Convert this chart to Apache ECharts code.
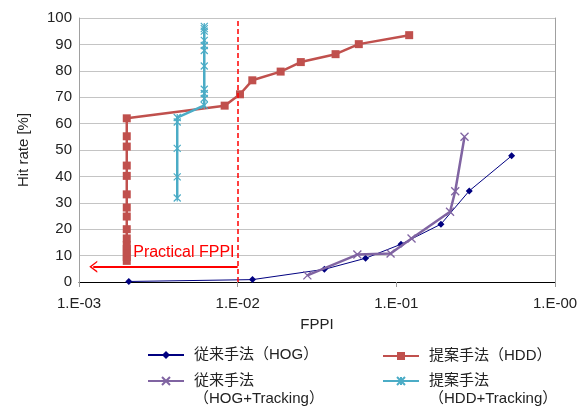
<!DOCTYPE html>
<html>
<head>
<meta charset="utf-8">
<script src="https://cdn.jsdelivr.net/npm/echarts@6/dist/echarts.min.js"></script>
<style>
  html, body { margin: 0; padding: 0; background: #ffffff; }
  #chart { width: 587px; height: 408px; }
</style>
</head>
<body>
<div id="chart"></div>
<script>
// ---- data ----
const seriesNames = ['従来手法（HOG）', '提案手法（HDD）', '従来手法\n（HOG+Tracking）', '提案手法\n（HDD+Tracking）'];

const hogX = [0.00206, 0.0124, 0.0352, 0.064, 0.107, 0.191, 0.288, 0.533];
const hogY = [0.2, 0.9, 4.8, 9.0, 14.3, 21.9, 34.5, 47.8];

const hddX = [0.002, 0.002, 0.002, 0.002, 0.002, 0.002, 0.002, 0.002, 0.002, 0.002, 0.002, 0.002, 0.002, 0.002, 0.002,
              0.00828, 0.01034, 0.01237, 0.01866, 0.0250, 0.0414, 0.058, 0.1205];
const hddY = [8.0, 9.5, 11.0, 12.5, 14.0, 16.5, 20.0, 24.8, 28.2, 33.2, 40.2, 44.1, 51.3, 55.2, 62.0,
              66.8, 71.1, 76.4, 79.7, 83.3, 86.3, 90.1, 93.5];

const hogTrX = [0.0275, 0.0568, 0.092, 0.1247, 0.218, 0.235, 0.269];
const hogTrY = [2.5, 10.4, 10.8, 16.5, 26.6, 34.4, 55.0];

const hddTrX = [0.00416, 0.00416, 0.00416, 0.00416, 0.00416,
                0.00616, 0.00616, 0.00616, 0.00616, 0.00616, 0.00616, 0.00616, 0.00616, 0.00616, 0.00616, 0.00616];
const hddTrY = [31.8, 39.8, 50.6, 60.6, 62.3,
                66.9, 69.5, 71.4, 73.0, 81.8, 87.7, 89.6, 91.5, 95.0, 96.0, 96.8];

const xTickLabels = ['1.E-03', '1.E-02', '1.E-01', '1.E-00'];
const xMin = 0.001, xMax = 1;
const yMin = 0, yMax = 100, yStep = 10;

const practicalFPPI = 0.01;
const arrowY = 5.8;
const arrowEndX = 0.00123;
const practicalLabel = 'Practical FPPI';
const practicalLabelPos = [0.0097, 11.3];

// ---- build chart ----
const zip = (xs, ys) => xs.map((x, i) => [x, ys[i]]);
const FONT = '"Liberation Sans", Arial, "Noto Sans CJK JP", sans-serif';
const xSym = 'path://M0,0L10,10M10,0L0,10';
const starSym = 'path://M0,0L10,10M10,0L0,10M5,0L5,10';
const chevronUp = 'path://M0,10L5,0L10,10L8.6,10L5,2.8L1.4,10Z';

const chart = echarts.init(document.getElementById('chart'), null, { renderer: 'canvas' });

const legendText = { fontFamily: FONT, fontSize: 15, color: '#222', lineHeight: 18, padding: [0, 0, 0, 5] };
const legendBase = {
  orient: 'horizontal', padding: 0, itemWidth: 36, itemHeight: 10, itemGap: 0,
  textStyle: legendText, selectedMode: false
};
const legendRow1 = Object.assign({}, legendBase, { formatter: n => n });
// leading empty line keeps the icon level with the first text line
const legendRow2 = Object.assign({}, legendBase, { formatter: n => '\n' + n });

const option = {
  backgroundColor: '#ffffff',
  animation: false,
  grid: { left: 79, right: 32, top: 18, bottom: 126, containLabel: false },
  legend: [
    Object.assign({}, legendRow1, { data: [seriesNames[0]], left: 147, top: 346 }),
    Object.assign({}, legendRow1, { data: [seriesNames[1]], left: 382, top: 347 }),
    Object.assign({}, legendRow2, { data: [seriesNames[2]], left: 147, top: 354 }),
    Object.assign({}, legendRow2, { data: [seriesNames[3]], left: 382, top: 354 })
  ],
  xAxis: {
    type: 'log', logBase: 10, min: xMin, max: xMax,
    name: 'FPPI', nameLocation: 'middle', nameGap: 35,
    nameTextStyle: { fontFamily: FONT, fontSize: 15, color: '#222' },
    axisLine: { show: true, onZero: false, lineStyle: { color: '#000', width: 1 } },
    axisTick: { show: true, inside: false, length: 5, lineStyle: { color: '#999' } },
    axisLabel: {
      fontFamily: FONT, fontSize: 15, color: '#222', margin: 14,
      formatter: v => xTickLabels[Math.round(Math.log10(v) - Math.log10(xMin))]
    },
    splitLine: { show: false },
    minorTick: { show: false }
  },
  yAxis: [
    {
      type: 'value', min: yMin, max: yMax, interval: yStep,
      name: 'Hit rate [%]', nameLocation: 'middle', nameGap: 48, nameRotate: 90,
      nameTextStyle: { fontFamily: FONT, fontSize: 15, color: '#222' },
      axisLine: { show: true, lineStyle: { color: '#a0a0a0' } },
      axisTick: { show: false },
      axisLabel: { fontFamily: FONT, fontSize: 15, color: '#222', margin: 7 },
      splitLine: { show: true, lineStyle: { color: '#c4c4c4', width: 1 } }
    },
    {
      type: 'value', min: yMin, max: yMax, interval: yStep, position: 'right',
      axisLine: { show: true, lineStyle: { color: '#a0a0a0' } },
      axisTick: { show: false }, axisLabel: { show: false }, splitLine: { show: false }
    }
  ],
  series: [
    {
      name: seriesNames[0], type: 'line', data: zip(hogX, hogY),
      color: '#000080', symbol: 'diamond', symbolSize: 7,
      lineStyle: { width: 1, color: '#000080' }, itemStyle: { color: '#000080' }, z: 2
    },
    {
      name: seriesNames[1], type: 'line', data: zip(hddX, hddY),
      color: '#C0504D', symbol: 'rect', symbolSize: 8,
      lineStyle: { width: 2.5, color: '#C0504D' }, itemStyle: { color: '#C0504D' }, z: 3
    },
    {
      name: seriesNames[2], type: 'line', data: zip(hogTrX, hogTrY),
      color: '#8064A2', symbol: xSym, symbolSize: 8,
      lineStyle: { width: 2.5, color: '#8064A2' },
      itemStyle: { color: '#8064A2', borderColor: '#8064A2', borderWidth: 1.3 }, z: 4
    },
    {
      name: seriesNames[3], type: 'line', data: zip(hddTrX, hddTrY),
      color: '#4BACC6', symbol: starSym, symbolSize: 7,
      lineStyle: { width: 2.5, color: '#4BACC6' },
      itemStyle: { color: '#4BACC6', borderColor: '#4BACC6', borderWidth: 1.2 }, z: 5
    },
    {
      name: 'annotation', type: 'line', data: [], z: 6,
      markLine: {
        silent: true, animation: false,
        label: { show: false },
        data: [
          [{ coord: [practicalFPPI, yMin], symbol: 'none', lineStyle: { color: '#ff0000', width: 1.5, type: [5, 3] } },
           { coord: [practicalFPPI, yMax], symbol: 'none' }],
          [{ coord: [practicalFPPI, arrowY], symbol: 'none', lineStyle: { color: '#ff0000', width: 2, type: 'solid' } },
           { coord: [arrowEndX, arrowY], symbol: chevronUp, symbolSize: [12, 8] }]
        ]
      },
      markPoint: {
        silent: true, animation: false,
        symbol: 'rect', symbolSize: 0,
        data: [{ coord: practicalLabelPos, value: practicalLabel }],
        label: {
          show: true, position: 'left', distance: 1, formatter: practicalLabel,
          fontFamily: FONT, fontSize: 16, color: '#ff0000'
        }
      }
    }
  ]
};

chart.setOption(option);
</script>
</body>
</html>
